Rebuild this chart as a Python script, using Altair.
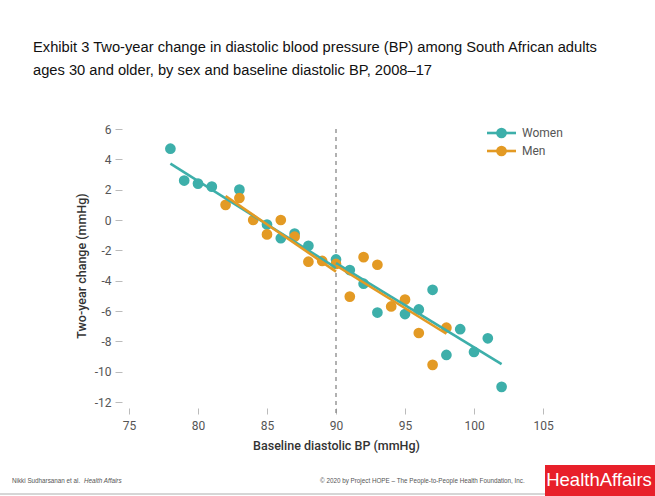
import altair as alt
import pandas as pd

# ---- data ----
series_names = ["Women", "Men"]
series_colors = ["#3DAFAA", "#E39A24"]

women_x = [78, 79, 80, 81, 83, 85, 86, 87, 88, 90, 91, 92, 93, 95, 96, 97, 98, 99, 100, 101, 102]
women_y = [4.7, 2.6, 2.4, 2.2, 2.0, -0.3, -1.2, -0.9, -1.7, -2.6, -3.3, -4.2, -6.1, -6.2, -5.9, -4.6, -8.9, -7.2, -8.7, -7.8, -11.0]

men_x = [82, 83, 84, 85, 86, 87, 88, 89, 90, 91, 92, 93, 94, 95, 96, 97, 98]
men_y = [1.0, 1.45, 0.0, -0.95, 0.0, -1.1, -2.75, -2.7, -2.9, -5.05, -2.45, -2.95, -5.7, -5.25, -7.45, -9.55, -7.1]

# fitted piecewise lines (break at 90)
women_fit_x = [78, 90, 90, 102]
women_fit_y = [3.72, -3.15, -2.85, -9.5]
women_fit_seg = [1, 1, 2, 2]
men_fit_x = [82, 90, 90, 98]
men_fit_y = [1.58, -3.4, -3.0, -7.5]
men_fit_seg = [1, 1, 2, 2]

ref_x = [90]

x_ticks = [75, 80, 85, 90, 95, 100, 105]
y_ticks = [-12, -10, -8, -6, -4, -2, 0, 2, 4, 6]

title_lines = [
    "Exhibit 3 Two-year change in diastolic blood pressure (BP) among South African adults",
    "ages 30 and older, by sex and baseline diastolic BP, 2008\u201317",
]
x_title = "Baseline diastolic BP (mmHg)"
y_title = "Two-year change (mmHg)"
footer_author = "Nikki Sudharsanan et al."
footer_journal = "Health Affairs"
footer_copy = "\u00a9 2020 by Project HOPE \u2013 The People-to-People Health Foundation, Inc."
logo_text = "HealthAffairs"

# ---- tables ----
pts = pd.concat([
    pd.DataFrame({"x": women_x, "y": women_y, "series": "Women"}),
    pd.DataFrame({"x": men_x, "y": men_y, "series": "Men"}),
])
wfit = pd.DataFrame({"x": women_fit_x, "y": women_fit_y, "seg": women_fit_seg, "series": "Women"})
mfit = pd.DataFrame({"x": men_fit_x, "y": men_fit_y, "seg": men_fit_seg, "series": "Men"})
ref = pd.DataFrame({"x": ref_x})
one = pd.DataFrame({"a": [0]})

W, H = 414, 273
AX_FONT = "Roboto"
HYPHEN = "replace(datum.label, '\u2212', '-')"

xscale = alt.Scale(domain=[75, 105], nice=False, zero=False)
yscale = alt.Scale(domain=[-12, 6], nice=False, zero=False)
cscale = alt.Scale(domain=series_names, range=series_colors)

xaxis = alt.Axis(
    values=x_ticks, title=x_title, grid=False, domain=False, offset=6,
    tickSize=6, tickColor="#bbbbbb", labelColor="#555555", labelFontSize=12,
    labelFont=AX_FONT, labelPadding=6, labelOverlap=False, labelFlush=False,
    titleFont=AX_FONT, titleFontSize=12.5,
    titleFontWeight=500, titleColor="#333333", titlePadding=8)
yaxis = alt.Axis(
    values=y_ticks, title=y_title, grid=False, domain=False, offset=7,
    tickSize=7, tickColor="#bbbbbb", labelColor="#555555", labelFontSize=12,
    labelFont=AX_FONT, labelPadding=4, labelOverlap=False, labelFlush=False,
    labelExpr=HYPHEN,
    titleFont=AX_FONT, titleFontSize=12.5,
    titleFontWeight=500, titleColor="#333333", titlePadding=6)


def xenc():
    return alt.X("x:Q", scale=xscale, axis=xaxis)


def yenc():
    return alt.Y("y:Q", scale=yscale, axis=yaxis)


color = alt.Color("series:N", scale=cscale, legend=None)

rule90 = alt.Chart(ref).mark_rule(color="#888888", strokeDash=[4, 4], strokeWidth=1.3).encode(
    x=xenc(), y=alt.value(0), y2=alt.value(H + 12))

points = alt.Chart(pts).mark_circle(size=115, opacity=1).encode(
    x=xenc(), y=yenc(), color=color)

wline = alt.Chart(wfit).mark_line(strokeWidth=2.6).encode(
    x=xenc(), y=yenc(), detail="seg:N", color=color)
mline = alt.Chart(mfit).mark_line(strokeWidth=2.6).encode(
    x=xenc(), y=yenc(), detail="seg:N", color=color)

# legend (manual)
legend_layers = []
for i, (name, col) in enumerate(zip(series_names, series_colors)):
    ly = 4 + i * 18
    legend_layers.append(alt.Chart(one).mark_rule(color=col, strokeWidth=2.6).encode(
        x=alt.value(358), x2=alt.value(387), y=alt.value(ly)))
    legend_layers.append(alt.Chart(one).mark_circle(size=115, color=col, opacity=1).encode(
        x=alt.value(372.5), y=alt.value(ly)))
    legend_layers.append(alt.Chart(one).mark_text(
        text=name, align="left", baseline="middle", font=AX_FONT, fontSize=12,
        color="#555555").encode(x=alt.value(393), y=alt.value(ly)))

# title
title_layers = []
for i, line in enumerate(title_lines):
    title_layers.append(alt.Chart(one).mark_text(
        text=line, align="left", baseline="alphabetic", font="Liberation Sans",
        fontSize=14.7, color="#111111").encode(x=alt.value(-96), y=alt.value(-77 + i * 23)))

# footer
footer = [
    alt.Chart(one).mark_rule(color="#c8c8c8", strokeWidth=1.5).encode(
        x=alt.value(-129), x2=alt.value(416), y=alt.value(365)),
    alt.Chart(one).mark_text(text=footer_author, align="left", baseline="middle",
        font="Liberation Sans", fontSize=6.3, color="#555555").encode(
        x=alt.value(-117), y=alt.value(352)),
    alt.Chart(one).mark_text(text=footer_journal, align="left", baseline="middle",
        font="Liberation Sans", fontSize=6.3, fontStyle="italic", color="#555555").encode(
        x=alt.value(-45), y=alt.value(352)),
    alt.Chart(one).mark_text(text=footer_copy, align="left", baseline="middle",
        font="Liberation Sans", fontSize=6.3, color="#555555").encode(
        x=alt.value(191), y=alt.value(352)),
    alt.Chart(one).mark_rect(color="#E8202A").encode(
        x=alt.value(416), x2=alt.value(526), y=alt.value(336), y2=alt.value(367)),
    alt.Chart(one).mark_text(text=logo_text, align="center", baseline="middle",
        font="Liberation Sans", fontSize=18.5, color="white").encode(
        x=alt.value(470), y=alt.value(351)),
]

chart = alt.layer(
    rule90, points, wline, mline, *legend_layers, *title_layers, *footer
).properties(
    width=W, height=H,
    autosize=alt.AutoSizeParams(type="none"),
    padding={"left": 129, "top": 129, "right": 112, "bottom": 94},
    background="white",
).configure_view(stroke=None)

chart.save("out.html", embed_options={"renderer": "svg", "actions": False})
